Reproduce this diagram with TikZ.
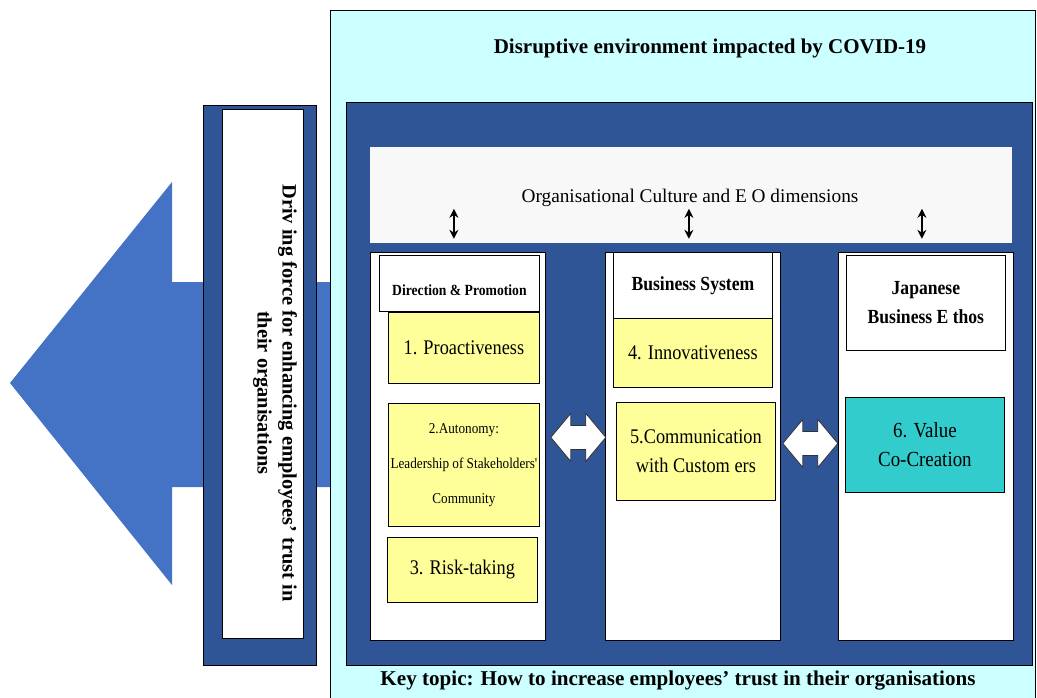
\documentclass[tikz,border=0pt]{standalone}
\usepackage{fontspec}
\setmainfont{Liberation Serif}
\newfontfamily\condfont{Liberation Serif}[FakeStretch=0.88]
\usetikzlibrary{positioning,calc,arrows.meta}
\definecolor{envcyan}{RGB}{204,255,255}
\definecolor{deepblue}{RGB}{47,85,151}
\definecolor{arrowblue}{RGB}{68,114,196}
\definecolor{dimyellow}{RGB}{255,255,153}
\definecolor{valueteal}{RGB}{51,204,204}
\definecolor{hdrgray}{RGB}{248,248,248}

\begin{document}
\begin{tikzpicture}[x=1pt,y=-1pt,
        box/.style={draw,line width=0.8pt,inner sep=0pt,anchor=north west,align=center},
        col/.style={box,fill=white,minimum width=175,minimum height=388},
        head/.style={box,fill=white,font=\condfont\bfseries\fontsize{20}{29}\selectfont},
        dim/.style={box,fill=dimyellow,font=\condfont\fontsize{20.8}{29}\selectfont},
        >={Stealth[length=9pt,width=9pt]}]
        \useasboundingbox (0,0) rectangle (1037,697);
        \fill[arrowblue] (10,383) -- (172,182) -- (172,282) -- (335,282) -- (335,487) -- (172,487) -- (172,585) -- cycle;
        \node[box,fill=deepblue,minimum width=113,minimum height=560] (drive) at (203,105) {};
        \node[box,fill=white,minimum width=81,minimum height=529] (drive_in) at (222,109) {};
        \node[rotate=-90,align=center,font=\bfseries\fontsize{20.4}{25}\selectfont] (drive_txt) at (275,393) {Driv ing force for enhancing employees' trust in\\their organisations};

        \node[box,fill=envcyan,minimum width=705,minimum height=700] (env) at (330,10) {};
        \node[font=\bfseries\fontsize{21}{24}\selectfont] (env_title) at (710,48) {Disruptive environment impacted by COVID-19};
        \node[box,fill=deepblue,minimum width=686,minimum height=563] (eo) at (346,102) {};
        \node[box,draw=none,fill=hdrgray,minimum width=642,minimum height=96] (hdr) at (370,147) {};
        \node[font=\fontsize{19.3}{22}\selectfont] (hdr_txt) at (690,198) {Organisational Culture and E O dimensions};

        \node[col] (col_1) at (370,252) {};
        \node[col] (col_2) at (605,252) {};
        \node[col] (col_3) at (838,252) {};
        \node[head,minimum width=160,minimum height=56,text height=24pt,font=\condfont\bfseries\fontsize{15.5}{18}\selectfont] (dir_hdr) at (379,255) {Direction \& Promotion};
        \node[head,minimum width=159,minimum height=66] (sys_hdr) at (613,252) {Business System};
        \node[head,minimum width=159,minimum height=95] (ethos_hdr) at (846,255) {Japanese\\Business E thos};

        \node[dim,minimum width=151,minimum height=71] (dim_1) at (388,312) {1. Proactiveness};
        \node[dim,minimum width=151,minimum height=123,font=\condfont\fontsize{15}{35}\selectfont] (dim_2) at (388,403) {2.Autonomy:\\Leadership of Stakeholders'\\Community};
        \node[dim,minimum width=150,minimum height=65] (dim_3) at (387,537) {3. Risk-taking};
        \node[dim,minimum width=159,minimum height=69] (dim_4) at (613,318) {4. Innovativeness};
        \node[dim,minimum width=159,minimum height=98] (dim_5) at (616,402) {5.Communication\\with Custom ers};
        \node[dim,fill=valueteal,minimum width=159,minimum height=95,font=\condfont\fontsize{21.5}{29}\selectfont] (dim_6) at (845,397) {6. Value\\Co-Creation};

        \foreach \c in {col_1,col_2,col_3}
          \draw[<->,line width=1.3pt] ($(hdr.south -| \c.north)+(-4,-5)$) -- ++(0,-30);
        \foreach \a/\dx/\dy in {col_1/5/-9,col_2/2/-3}
          \draw[fill=white,draw=black!80,line width=0.8pt] ([shift={(\dx,\dy)}]\a.east) -- ++(20,-24) -- ++(0,12) -- ++(15,0) -- ++(0,-12) -- ++(20,24) -- ++(-20,24) -- ++(0,-12) -- ++(-15,0) -- ++(0,12) -- cycle;

        \node[font=\bfseries\fontsize{21.1}{24}\selectfont] (key) at (678,680) {Key topic: How to increase employees' trust in their organisations};
     \end{tikzpicture}
\end{document}
